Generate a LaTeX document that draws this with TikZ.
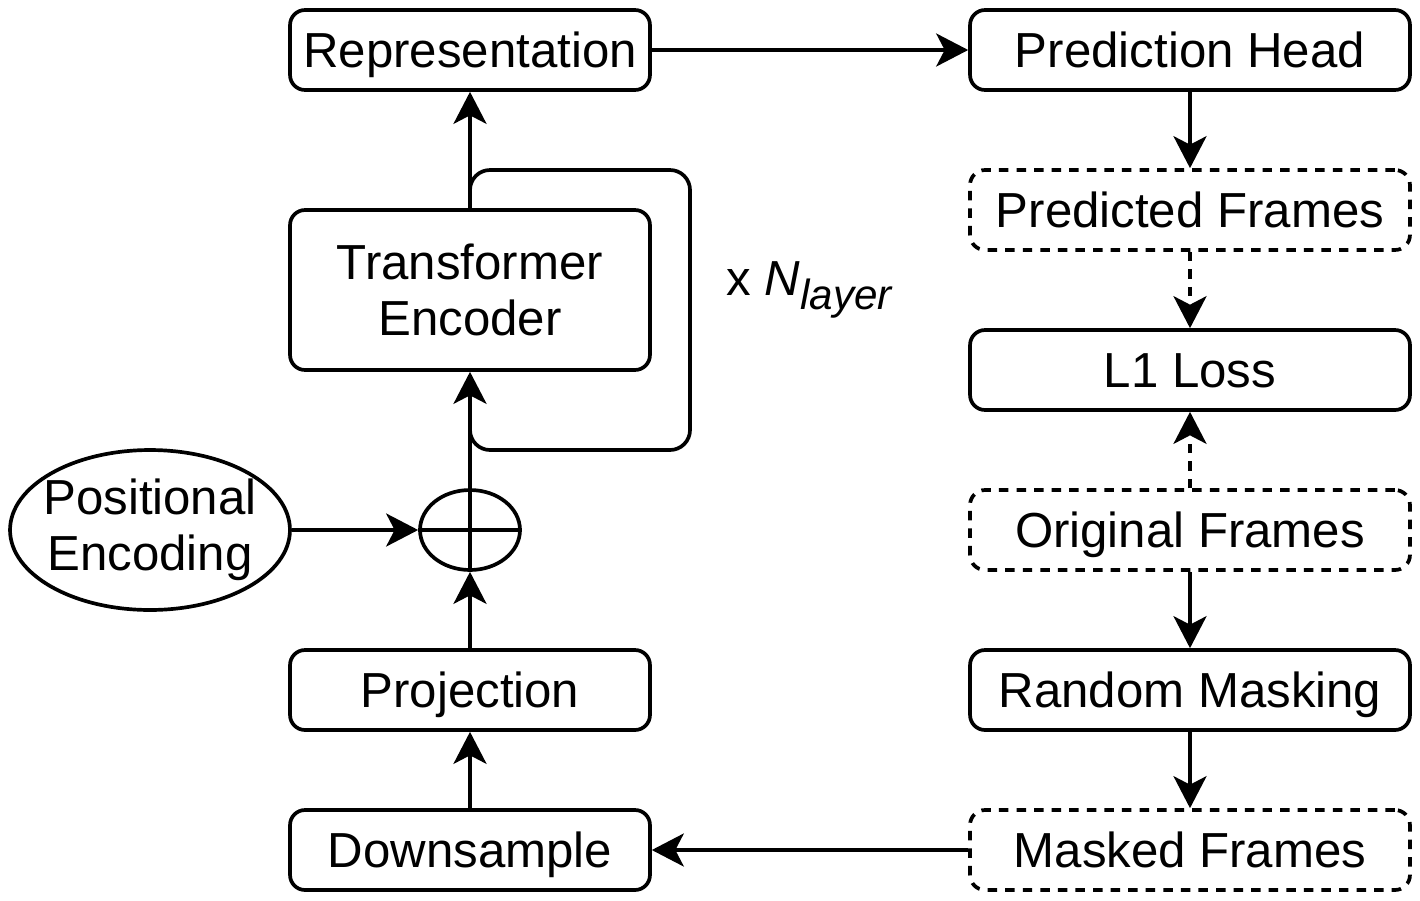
\documentclass[tikz,border=0pt]{standalone}
\usepackage{fontspec}
\setmainfont{Liberation Sans}
\usetikzlibrary{shapes.geometric,arrows.meta}
\begin{document}
\begin{tikzpicture}[x=0.02cm,y=-0.02cm,
  every node/.style={font=\fontsize{28}{32}\selectfont, inner sep=0pt, align=center},
  txt/.style={text height=20pt, text depth=0pt},
  box/.style={draw, rounded corners=0.3cm, line width=2.1pt, minimum height=1.6cm},
  lbox/.style={box, txt, minimum width=7.2cm},
  rbox/.style={box, txt, minimum width=8.8cm},
  dbox/.style={rbox, dash pattern=on 5.4pt off 4.6pt},
  conn/.style={line width=2.1pt, -{Stealth[length=0.64cm, width=0.66cm, inset=0.17cm]}},
  dconn/.style={conn, dash pattern=on 5.4pt off 4.6pt}]
\useasboundingbox (0,0) rectangle (1420,900);
\node[lbox] (rep) at (470,50) {Representation};
\node[rbox] (ph) at (1190,50) {Prediction Head};
\node[dbox] (pf) at (1190,210) {Predicted Frames};
\node[rbox] (l1) at (1190,370) {L1 Loss};
\node[dbox] (of) at (1190,530) {Original Frames};
\node[rbox] (rm) at (1190,690) {Random Masking};
\node[dbox] (mf) at (1190,850) {Masked Frames};
\node[box, minimum width=7.2cm, minimum height=3.2cm] (te) at (470,290) {Transformer\\Encoder};
\node[lbox] (pr) at (470,690) {Projection};
\node[lbox] (ds) at (470,850) {Downsample};
\node[draw, ellipse, line width=2.1pt, minimum width=5.6cm, minimum height=3.2cm,
  label={center:{Positional\\Encoding}}] (pe) at (150,530) {};
\node[draw, ellipse, line width=2.1pt, minimum width=2cm, minimum height=1.6cm] (plus) at (470,530) {};
\draw[line width=2.1pt] (plus.west) -- (plus.east) (plus.north) -- (plus.south);
\node (nl) at (810,290) {x \textit{N}\raisebox{-0.3em}{\fontsize{24}{28}\selectfont\textit{layer}}};
\coordinate (c1) at (470,170);
\coordinate (c2) at (690,170);
\coordinate (c3) at (690,450);
\coordinate (c4) at (470,450);
\coordinate (c5) at (470,425);
\draw[line width=2.1pt, rounded corners=0.4cm] (te.north) -- (c1) -- (c2) -- (c3) -- (c4) -- (c5);
\draw[conn] (te.north) -- (rep.south);
\draw[conn] (rep.east) -- (ph.west);
\draw[conn] (ph.south) -- (pf.north);
\draw[dconn] (pf.south) -- (l1.north);
\draw[dconn] (of.north) -- (l1.south);
\draw[conn] (of.south) -- (rm.north);
\draw[conn] (rm.south) -- (mf.north);
\draw[conn] (mf.west) -- (ds.east);
\draw[conn] (ds.north) -- (pr.south);
\draw[conn] (pr.north) -- (plus.south);
\draw[conn] (plus.north) -- (te.south);
\draw[conn] (pe.east) -- (plus.west);
\end{tikzpicture}
\end{document}
